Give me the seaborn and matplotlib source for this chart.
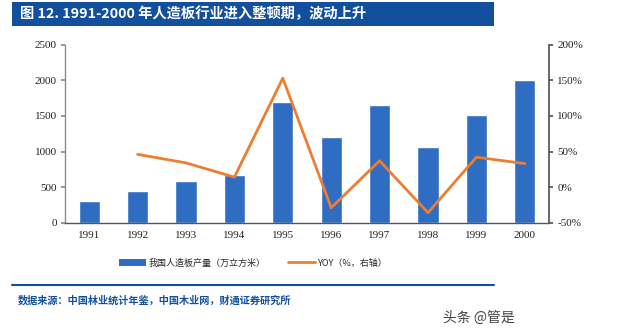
import numpy as np
import pandas as pd
import matplotlib
matplotlib.use("Agg")
import matplotlib.pyplot as plt
from matplotlib.patches import Rectangle
from matplotlib.lines import Line2D
from matplotlib.ticker import FixedLocator, FuncFormatter
import seaborn as sns

years = ["1991", "1992", "1993", "1994", "1995", "1996", "1997", "1998", "1999", "2000"]
output = [300, 440, 590, 670, 1700, 1210, 1660, 1060, 1510, 2010]          # 万立方米
yoy = [np.nan, 46, 34, 14, 153, -29, 37, -36, 42, 33]                      # %

title = "图 12. 1991-2000 年人造板行业进入整顿期，波动上升"
bar_label = "我国人造板产量（万立方米）"
line_label = "YOY（%，右轴）"
source = "数据来源：中国林业统计年鉴，中国木业网，财通证券研究所"
watermark = "头条 @管是"

sns.set_theme(style="white")
plt.rcParams["font.family"] = ["Noto Sans CJK SC", "DejaVu Sans"]

BAR_BLUE = "#2F6DC3"
ORANGE = "#ED7D31"
NAVY = "#12509E"
AXIS_GREY = "#8C8C8C"
SERIF = ["Liberation Serif", "DejaVu Serif"]

W, H = 640, 334
fig = plt.figure(figsize=(W / 100, H / 100), dpi=100)
fig.patch.set_facecolor("white")

def px(x0, y0, x1, y1):
    return [x0 / W, 1 - y1 / H, (x1 - x0) / W, (y1 - y0) / H]

# title band
fig.patches.append(Rectangle((12 / W, 1 - 26 / H), (494 - 12) / W, 24 / H,
                             transform=fig.transFigure, facecolor=NAVY,
                             edgecolor="none", zorder=0))
fig.text(20 / W, 1 - 14 / H, title, color="white", fontsize=10.3,
         fontweight="bold", va="center", ha="left")

df = pd.DataFrame({"year": years, "output": output, "yoy": yoy})

ax = fig.add_axes(px(65, 44.7, 549, 222.7))
sns.barplot(data=df, x="year", y="output", order=years, color=BAR_BLUE,
            saturation=1, width=0.44, ax=ax)
ax.set_xlim(-0.5, len(years) - 0.5)
ax.set_ylim(0, 2500)
ax.set_yticks(np.arange(0, 2501, 500))
ax.set_xlabel("")
ax.set_ylabel("")
for s in ["top", "right"]:
    ax.spines[s].set_visible(False)
ax.spines["left"].set_color(AXIS_GREY)
ax.spines["bottom"].set_color("#555555")
ax.spines["left"].set_linewidth(1.0)
ax.spines["bottom"].set_linewidth(1.0)
ax.tick_params(axis="x", which="major", length=0, pad=6)
ax.xaxis.set_minor_locator(FixedLocator(np.arange(-0.5, len(years), 1.0)))
ax.tick_params(axis="x", which="minor", length=3, color="#555555", direction="inout")
ax.tick_params(axis="y", length=3, color=AXIS_GREY, direction="out", pad=3)
for lab in ax.get_xticklabels() + ax.get_yticklabels():
    lab.set_fontfamily(SERIF)
    lab.set_fontsize(8)
    lab.set_color("#222222")

ax2 = ax.twinx()
sns.lineplot(x=np.arange(len(years)), y=df["yoy"], color=ORANGE, linewidth=2,
             ax=ax2, legend=False)
ax2.set_ylim(-50, 200)
ax2.set_yticks(np.arange(-50, 201, 50))
ax2.yaxis.set_major_formatter(FuncFormatter(lambda v, p: f"{v:.0f}%"))
ax2.set_ylabel("")
for s in ["top", "left", "bottom"]:
    ax2.spines[s].set_visible(False)
ax2.spines["right"].set_color("#555555")
ax2.tick_params(axis="y", length=3, color="#555555", direction="out", pad=3)
for lab in ax2.get_yticklabels():
    lab.set_fontfamily(SERIF)
    lab.set_fontsize(8)
    lab.set_color("#222222")

handles = [Rectangle((0, 0), 1, 1, facecolor=BAR_BLUE, edgecolor="none"),
           Line2D([], [], color=ORANGE, linewidth=2)]
fig.legend(handles, [bar_label, line_label], loc="center",
           bbox_to_anchor=(253 / W, 1 - 263 / H), ncol=2, frameon=False,
           prop={"size": 6.5}, handlelength=3.0, handleheight=0.9,
           handletextpad=0.3, columnspacing=2.5)

fig.lines.append(Line2D([12 / W, 494 / W], [1 - 285 / H, 1 - 285 / H],
                        transform=fig.transFigure, color=NAVY, linewidth=1.5))
fig.text(18 / W, 1 - 300 / H, source, color=NAVY, fontsize=7.3,
         fontweight="bold", va="center", ha="left")
fig.text(515 / W, 1 - 318 / H, watermark, color="#444444", fontsize=10,
         va="center", ha="right")

fig.savefig("out.png", dpi=100, facecolor="white")
